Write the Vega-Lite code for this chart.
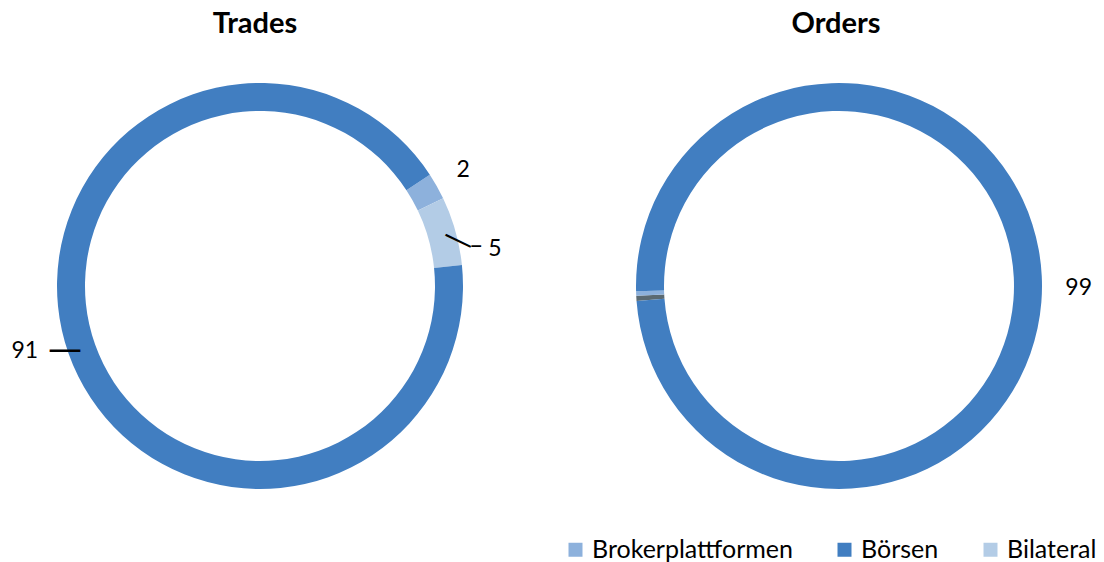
{
  "$schema": "https://vega.github.io/schema/vega-lite/v6.json",
  "padding": {"top": 10, "left": 0, "right": 0, "bottom": 0},
  "background": "white",
  "spacing": 59,
  "bounds": "flush",
  "config": {"view": {"stroke": null}, "font": "Lato"},
  "datasets": {
    "trades": [
      {"kategorie": "Brokerplattformen", "anteil": 2.1, "reihenfolge": 1, "label": "2"},
      {"kategorie": "Bilateral", "anteil": 5.4, "reihenfolge": 2, "label": "5"},
      {"kategorie": "Börsen", "anteil": 91.4, "reihenfolge": 3, "label": "91"}
    ],
    "orders": [
      {"kategorie": "Sonstige", "anteil": 0.4, "reihenfolge": 1, "label": ""},
      {"kategorie": "Brokerplattformen", "anteil": 0.35, "reihenfolge": 2, "label": ""},
      {"kategorie": "Börsen", "anteil": 99.25, "reihenfolge": 3, "label": "99"}
    ]
  },
  "resolve": {"scale": {"theta": "independent", "color": "independent"}, "legend": {"color": "independent"}},
  "hconcat": [
    {
      "width": 520,
      "height": 450,
      "title": {"text": "Trades", "fontSize": 29, "fontWeight": "bold", "font": "Lato", "color": "black", "offset": 22, "dx": -5},
      "data": {"name": "trades"},
      "encoding": {
        "theta": {"field": "anteil", "type": "quantitative", "stack": true, "scale": {"range": [0.991, 7.2742]}},
        "order": {"field": "reihenfolge", "type": "quantitative"}
      },
      "layer": [
        {
          "mark": {"type": "arc", "outerRadius": 203, "innerRadius": 175},
          "encoding": {
            "color": {"field": "kategorie", "type": "nominal", "legend": null,
              "scale": {"domain": ["Brokerplattformen", "Börsen", "Bilateral", "Sonstige"], "range": ["#8DB1DC", "#417EC1", "#B3CCE6", "#5B6A72"]}}
          }
        },
        {
          "mark": {"type": "text", "radius": 240, "dx": -6, "dy": 2, "fontSize": 23, "font": "Lato", "color": "black"},
          "encoding": {"text": {"condition": {"test": "datum.kategorie === 'Brokerplattformen'", "field": "label"}, "value": ""}}
        },
        {
          "mark": {"type": "text", "radius": 240, "dx": 4, "dy": 28, "fontSize": 23, "font": "Lato", "color": "black"},
          "encoding": {"text": {"condition": {"test": "datum.kategorie === 'Bilateral'", "field": "label"}, "value": ""}}
        },
        {
          "mark": {"type": "text", "radius": 240, "dx": -9, "dy": -15, "fontSize": 23, "font": "Lato", "color": "black"},
          "encoding": {"text": {"condition": {"test": "datum.kategorie === 'Börsen'", "field": "label"}, "value": ""}}
        },
        {
          "mark": {"type": "text", "radius": 207, "dx": 0, "dy": -5, "fontSize": 34, "font": "DejaVu Sans", "color": "black"},
          "encoding": {"text": {"condition": {"test": "datum.kategorie === 'Börsen'", "value": "—"}, "value": ""}}
        },
        {
          "mark": {"type": "text", "radius": 204, "dx": 6, "dy": 8, "angle": 25.7, "fontSize": 31, "font": "DejaVu Sans", "color": "black"},
          "encoding": {"text": {"condition": {"test": "datum.kategorie === 'Bilateral'", "value": "—"}, "value": ""}}
        },
        {
          "mark": {"type": "text", "radius": 204, "dx": 20, "dy": 15, "fontSize": 24, "font": "DejaVu Sans", "color": "black"},
          "encoding": {"text": {"condition": {"test": "datum.kategorie === 'Bilateral'", "value": "–"}, "value": ""}}
        }
      ]
    },
    {
      "width": 520,
      "height": 450,
      "title": {"text": "Orders", "fontSize": 29, "fontWeight": "bold", "font": "Lato", "color": "black", "offset": 22, "dx": -3},
      "data": {"name": "orders"},
      "encoding": {
        "theta": {"field": "anteil", "type": "quantitative", "stack": true, "scale": {"range": [4.639, 10.9222]}},
        "order": {"field": "reihenfolge", "type": "quantitative"}
      },
      "layer": [
        {
          "mark": {"type": "arc", "outerRadius": 203, "innerRadius": 175},
          "encoding": {
            "color": {"field": "kategorie", "type": "nominal",
              "scale": {"domain": ["Brokerplattformen", "Börsen", "Bilateral", "Sonstige"], "range": ["#8DB1DC", "#417EC1", "#B3CCE6", "#5B6A72"]},
              "legend": {"title": null, "orient": "none", "direction": "horizontal", "legendX": -16, "legendY": 476,
                "values": ["Brokerplattformen", "Börsen", "Bilateral"], "symbolType": "square", "symbolSize": 196,
                "symbolStrokeWidth": 0, "labelFontSize": 25, "labelFont": "Lato", "labelColor": "black", "columnPadding": 39, "labelOffset": 4, "labelLimit": 400}}
          }
        },
        {
          "mark": {"type": "text", "radius": 240, "dy": 14, "fontSize": 23, "font": "Lato", "color": "black"},
          "encoding": {"text": {"field": "label"}}
        }
      ]
    }
  ]
}
